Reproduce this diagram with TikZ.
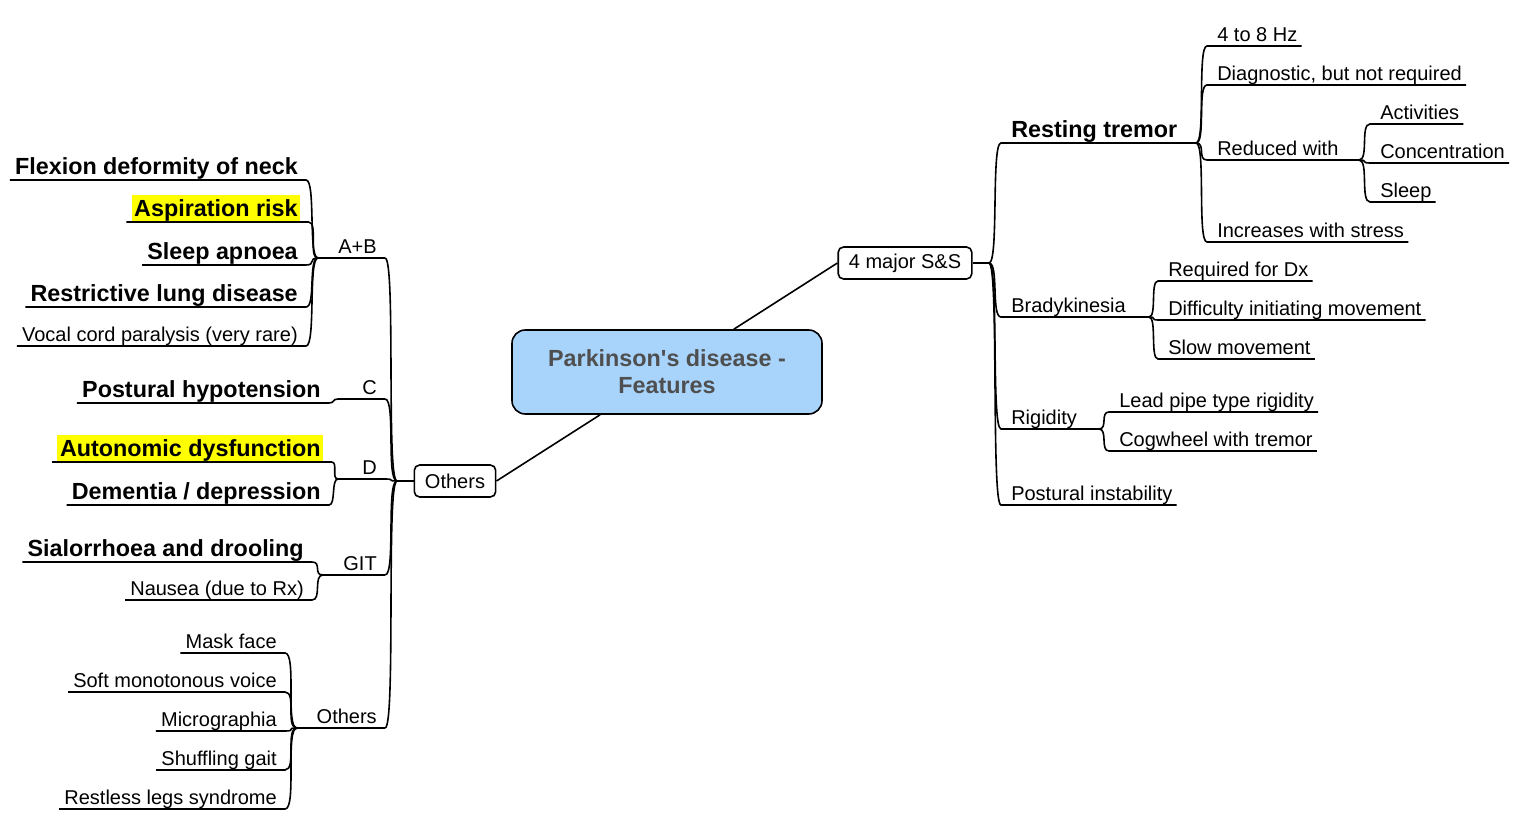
\documentclass[tikz,border=0pt]{standalone}
\usepackage{fontspec}
\setmainfont{Liberation Sans}[Ligatures=TeXOff]
\usetikzlibrary{calc}
\definecolor{rootfill}{HTML}{A8D4FC}
\definecolor{roottext}{HTML}{4F4F4F}
\definecolor{marker}{HTML}{FFFF00}
\tikzset{
  edge/.style={line width=1.2pt},
  item/.style={inner sep=0pt, text depth=3pt, font=\fontsize{15}{18}\selectfont},
  bitem/.style={item, text depth=3.75pt, font=\fontsize{17.5}{21}\selectfont\bfseries},
  hl/.style={fill=marker, text height=16.5pt, inner xsep=2pt},
  sbox/.style={draw, line width=1.2pt, rounded corners=4pt, fill=white, inner xsep=8pt,
    minimum height=24pt, font=\fontsize{15}{18}\selectfont},
  root/.style={draw, line width=1.2pt, rounded corners=10pt, fill=rootfill, text=roottext,
    align=center, minimum width=232.5pt, minimum height=63pt,
    font=\fontsize{17.5}{20.25}\selectfont\bfseries}
}
\begin{document}
\begin{tikzpicture}[x=0.75pt,y=-0.75pt]
\useasboundingbox (0,0) rectangle (1521,820);
%centre
\node[root] (pd) at (667,372) {Parkinson's disease -\\Features};
\node[sbox] (major) at (905,263) {4 major S\&S};
\node[sbox] (others) at (455,481) {Others};
\draw[edge] (pd) -- (major.west);
\draw[edge] (pd) -- (others.east);
%junctions
\coordinate (jmajor) at (989,263);
\coordinate (jtremor) at (1196,143);
\coordinate (jreduced) at (1359,160);
\coordinate (jbrady) at (1149,317);
\coordinate (jrigid) at (1099,429);
\coordinate (jothers) at (397,481);
\coordinate (jab) at (318,258);
\coordinate (jc) at (338,399);
\coordinate (jd) at (338,479);
\coordinate (jgit) at (323,575);
\coordinate (jlower) at (297,728);
%right side
\node[bitem, anchor=south west] (tremor) at (1011,143) {Resting tremor};
\node[item, anchor=south west] (brady) at (1011,317) {Bradykinesia};
\node[item, anchor=south west] (rigid) at (1011,429) {Rigidity};
\node[item, anchor=south west] (postural) at (1011,505) {Postural instability};
\node[item, anchor=south west] (hz) at (1217,46) {4 to 8 Hz};
\node[item, anchor=south west] (diag) at (1217,85) {Diagnostic, but not required};
\node[item, anchor=south west] (reduced) at (1217,160) {Reduced with};
\node[item, anchor=south west] (stress) at (1217,242) {Increases with stress};
\node[item, anchor=south west] (activ) at (1380,124) {Activities};
\node[item, anchor=south west] (concen) at (1380,163) {Concentration};
\node[item, anchor=south west] (sleep) at (1380,202) {Sleep};
\node[item, anchor=south west] (reqdx) at (1168,281) {Required for Dx};
\node[item, anchor=south west] (diffic) at (1168,320) {Difficulty initiating movement};
\node[item, anchor=south west] (slowmov) at (1168,359) {Slow movement};
\node[item, anchor=south west] (leadpipe) at (1119,412) {Lead pipe type rigidity};
\node[item, anchor=south west] (cogwheel) at (1119,451) {Cogwheel with tremor};
%left side
\node[item, anchor=south east] (abgrp) at (377,258) {A+B};
\node[item, anchor=south east] (cgrp) at (377,399) {C};
\node[item, anchor=south east] (dgrp) at (377,479) {D};
\node[item, anchor=south east] (gitgrp) at (377,575) {GIT};
\node[item, anchor=south east] (lowgrp) at (377,728) {Others};
\node[bitem, anchor=south east] (flexion) at (298,180) {Flexion deformity of neck};
\node[bitem, hl, anchor=south east] (aspir) at (300.5,222) {Aspiration risk};
\node[bitem, anchor=south east] (apnoea) at (298,265) {Sleep apnoea};
\node[bitem, anchor=south east] (restrict) at (298,307) {Restrictive lung disease};
\node[item, anchor=south east] (vocal) at (298,346) {Vocal cord paralysis (very rare)};
\node[bitem, anchor=south east] (posthypo) at (321,403) {Postural hypotension};
\node[bitem, hl, anchor=south east] (autonom) at (323.5,462) {Autonomic dysfunction};
\node[bitem, anchor=south east] (dementia) at (321,505) {Dementia / depression};
\node[bitem, anchor=south east] (sialo) at (304,562) {Sialorrhoea and drooling};
\node[item, anchor=south east] (nausea) at (304,600) {Nausea (due to Rx)};
\node[item, anchor=south east] (mask) at (277,653) {Mask face};
\node[item, anchor=south east] (voice) at (277,692) {Soft monotonous voice};
\node[item, anchor=south east] (micro) at (277,731) {Micrographia};
\node[item, anchor=south east] (gait) at (277,770) {Shuffling gait};
\node[item, anchor=south east] (restless) at (277,809) {Restless legs syndrome};
%right connectors
\draw[edge] (major.east) -- (jmajor);
\foreach \n in {tremor,brady,rigid,postural}
  \draw[edge] (jmajor) .. controls +(10,0) and +(-10,0) .. ($(\n.south west)+(-10,0)$) -- ($(\n.south east)+(4,0)$);
\draw[edge] (tremor.south east) -- (jtremor);
\draw[edge] (brady.south east) -- (jbrady);
\draw[edge] (rigid.south east) -- (jrigid);
\foreach \n in {hz,diag,reduced,stress}
  \draw[edge] (jtremor) .. controls +(10,0) and +(-10,0) .. ($(\n.south west)+(-10,0)$) -- ($(\n.south east)+(4,0)$);
\draw[edge] (reduced.south east) -- (jreduced);
\foreach \n in {activ,concen,sleep}
  \draw[edge] (jreduced) .. controls +(10,0) and +(-10,0) .. ($(\n.south west)+(-10,0)$) -- ($(\n.south east)+(4,0)$);
\foreach \n in {reqdx,diffic,slowmov}
  \draw[edge] (jbrady) .. controls +(8,0) and +(-8,0) .. ($(\n.south west)+(-10,0)$) -- ($(\n.south east)+(4,0)$);
\foreach \n in {leadpipe,cogwheel}
  \draw[edge] (jrigid) .. controls +(9,0) and +(-9,0) .. ($(\n.south west)+(-10,0)$) -- ($(\n.south east)+(4,0)$);
%left connectors
\draw[edge] (others.west) -- (jothers);
\foreach \n in {abgrp,cgrp,dgrp,gitgrp,lowgrp}
  \draw[edge] (jothers) .. controls +(-11,0) and +(11,0) .. ($(\n.south east)+(8,0)$);
\draw[edge] ($(abgrp.south east)+(8,0)$) -- (jab);
\draw[edge] ($(cgrp.south east)+(8,0)$) -- (jc);
\draw[edge] ($(dgrp.south east)+(8,0)$) -- (jd);
\draw[edge] ($(gitgrp.south east)+(8,0)$) -- (jgit);
\draw[edge] ($(lowgrp.south east)+(8,0)$) -- (jlower);
\foreach \n in {flexion,aspir,apnoea,restrict,vocal}
  \draw[edge] (jab) .. controls +(-10,0) and +(10,0) .. ($(\n.south east)+(8,0)$) -- ($(\n.south west)+(-5,0)$);
\draw[edge] (jc) .. controls +(-6,0) and +(6,0) .. ($(posthypo.south east)+(8,0)$) -- ($(posthypo.south west)+(-5,0)$);
\foreach \n in {autonom,dementia}
  \draw[edge] (jd) .. controls +(-7,0) and +(7,0) .. ($(\n.south east)+(8,0)$) -- ($(\n.south west)+(-5,0)$);
\foreach \n in {sialo,nausea}
  \draw[edge] (jgit) .. controls +(-10,0) and +(10,0) .. ($(\n.south east)+(8,0)$) -- ($(\n.south west)+(-5,0)$);
\foreach \n in {mask,voice,micro,gait,restless}
  \draw[edge] (jlower) .. controls +(-12,0) and +(12,0) .. ($(\n.south east)+(8,0)$) -- ($(\n.south west)+(-5,0)$);
\end{tikzpicture}
\end{document}
